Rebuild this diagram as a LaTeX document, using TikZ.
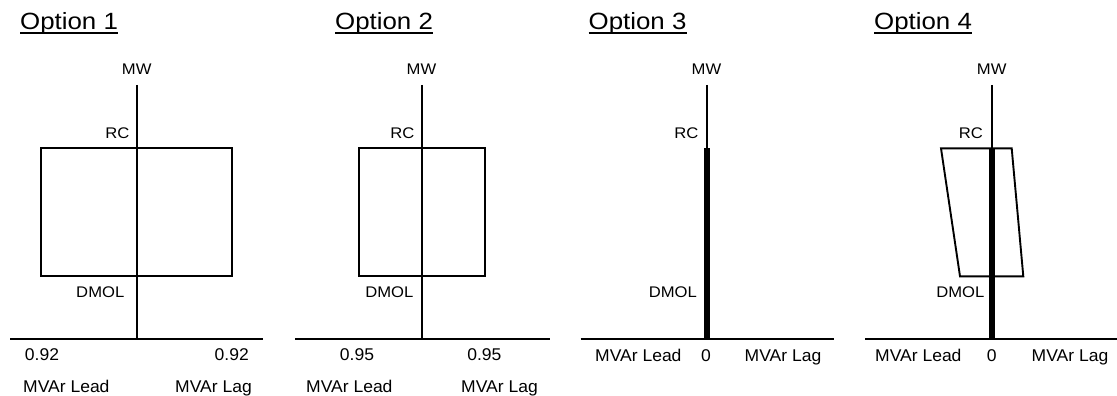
\documentclass[tikz,border=0pt]{standalone}
\usepackage{fontspec}
\setmainfont{Liberation Sans}
\newfontfamily\ttlfont[FakeStretch=1.1]{Liberation Sans}
\newfontfamily\lblfont[FakeStretch=1.08]{Liberation Sans}
\newfontfamily\axfont[FakeStretch=1.03]{Liberation Sans}
\usetikzlibrary{calc}
\begin{document}
\begin{tikzpicture}[x=1pt,y=-1pt,
  ttl/.style={font=\ttlfont\fontsize{23.5}{25}\selectfont, inner sep=0pt, anchor=base west},
  lbl/.style={font=\lblfont\fontsize{15.4}{17}\selectfont, inner sep=0pt},
  axl/.style={font=\axfont\fontsize{17}{19}\selectfont, inner sep=0pt},
  axisline/.style={line width=1.9pt},
  bar/.style={line width=6pt},
  ul/.style={line width=2.4pt},
  env/.style={line width=1.9pt, line join=miter}]
\useasboundingbox (0,0) rectangle (1117,396);

% ---------- Option 1 ----------
\node[ttl] (t1) at (20,29.7) {Option 1};
\draw[ul] ($(t1.base west)+(0,3.3)$) -- ($(t1.base east)+(0,3.3)$);
\coordinate (a1t) at (136.7,85); \coordinate (a1b) at (136.7,339);
\coordinate (h1l) at (10,339);   \coordinate (h1r) at (263,339);
\draw[env] (41,148.3) rectangle (231.7,276.3);
\draw[axisline] (a1t) -- (a1b);
\draw[axisline] (h1l) -- (h1r);
\node[lbl, anchor=base] (mw1) at (136.7,74.5) {MW};
\node[lbl, anchor=base east] (rc1) at (129.5,138.8) {RC};
\node[lbl, anchor=base east] (dm1) at (124.5,297) {DMOL};
\node[axl, anchor=base] (pl1) at (42,360.7) {0.92};
\node[axl, anchor=base] (pr1) at (231.7,360.7) {0.92};
\node[axl, anchor=base west] (ld1) at (23,392.7) {MVAr Lead};
\node[axl, anchor=base west] (lg1) at (175,392.7) {MVAr Lag};

% ---------- Option 2 ----------
\node[ttl] (t2) at (335,29.7) {Option 2};
\draw[ul] ($(t2.base west)+(0,3.3)$) -- ($(t2.base east)+(0,3.3)$);
\coordinate (a2t) at (421.7,85); \coordinate (a2b) at (421.7,339);
\coordinate (h2l) at (295,339);  \coordinate (h2r) at (550,339);
\draw[env] (359,148.3) rectangle (485,276.3);
\draw[axisline] (a2t) -- (a2b);
\draw[axisline] (h2l) -- (h2r);
\node[lbl, anchor=base] (mw2) at (421.5,74.5) {MW};
\node[lbl, anchor=base east] (rc2) at (414.5,138.8) {RC};
\node[lbl, anchor=base east] (dm2) at (413.5,297) {DMOL};
\node[axl, anchor=base] (pl2) at (357,360.7) {0.95};
\node[axl, anchor=base] (pr2) at (484.3,360.7) {0.95};
\node[axl, anchor=base west] (ld2) at (306,392.7) {MVAr Lead};
\node[axl, anchor=base west] (lg2) at (461,392.7) {MVAr Lag};

% ---------- Option 3 ----------
\node[ttl] (t3) at (588.5,29.7) {Option 3};
\draw[ul] ($(t3.base west)+(0,3.3)$) -- ($(t3.base east)+(0,3.3)$);
\coordinate (a3t) at (706.7,85); \coordinate (a3m) at (706.7,148.3); \coordinate (a3b) at (706.7,339);
\coordinate (h3l) at (580.7,339); \coordinate (h3r) at (834,339);
\draw[axisline] (a3t) -- (a3m);
\draw[bar] (a3m) -- (a3b);
\draw[axisline] (h3l) -- (h3r);
\node[lbl, anchor=base] (mw3) at (706.5,74.5) {MW};
\node[lbl, anchor=base east] (rc3) at (698.5,138.8) {RC};
\node[lbl, anchor=base east] (dm3) at (697,297) {DMOL};
\node[axl, anchor=base west] (ld3) at (595,361) {MVAr Lead};
\node[axl, anchor=base] (z3) at (706,361) {0};
\node[axl, anchor=base west] (lg3) at (744.5,361) {MVAr Lag};

% ---------- Option 4 ----------
\node[ttl] (t4) at (874,29.7) {Option 4};
\draw[ul] ($(t4.base west)+(0,3.3)$) -- ($(t4.base east)+(0,3.3)$);
\coordinate (a4t) at (991.7,85); \coordinate (a4m) at (991.7,148.3); \coordinate (a4b) at (991.7,339);
\coordinate (h4l) at (865,339); \coordinate (h4r) at (1117,339);
\draw[env] (941,148.3) -- (1011.7,148.3) -- (1023.3,276.3) -- (960,276.3) -- cycle;
\draw[axisline] (a4t) -- (a4m);
\draw[bar] (a4m) -- (a4b);
\draw[axisline] (h4l) -- (h4r);
\node[lbl, anchor=base] (mw4) at (991.7,74.5) {MW};
\node[lbl, anchor=base east] (rc4) at (983,138.8) {RC};
\node[lbl, anchor=base east] (dm4) at (984.5,297) {DMOL};
\node[axl, anchor=base west] (ld4) at (875,361) {MVAr Lead};
\node[axl, anchor=base] (z4) at (991.7,361) {0};
\node[axl, anchor=base west] (lg4) at (1031.5,361) {MVAr Lag};
\end{tikzpicture}
\end{document}
